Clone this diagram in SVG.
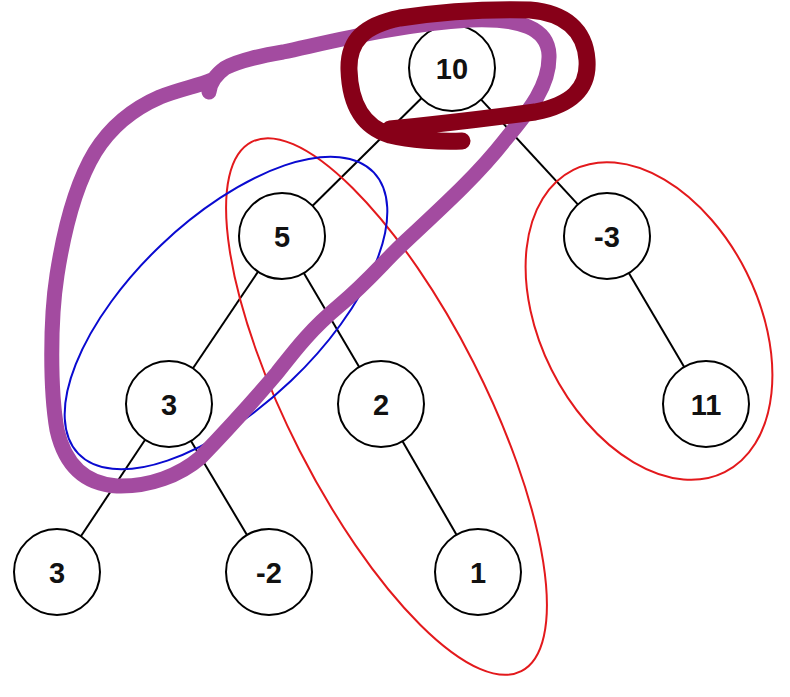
<svg xmlns="http://www.w3.org/2000/svg" width="790" height="697" viewBox="0 0 790 697">
<style>
.node circle{fill:#fff;stroke:#000;stroke-width:2}
.node text{font-family:"Liberation Sans",Arial,sans-serif;font-weight:bold;font-size:29px;text-anchor:middle;fill:#111}
.edges line{stroke:#000;stroke-width:2}
.ring{fill:none;stroke-width:2}
.marker{fill:none;stroke-linecap:round;stroke-linejoin:round}
</style>
<rect width="790" height="697" fill="#fff"/>
<g id="edges" class="edges">
<line x1="421.4" y1="98.2" x2="312.6" y2="205.8"/>
<line x1="481.2" y1="99.6" x2="577.8" y2="204.4"/>
<line x1="258" y1="271.7" x2="193" y2="368.3"/>
<line x1="303.8" y1="273" x2="359.2" y2="367"/>
<line x1="145.1" y1="439.8" x2="80.9" y2="536.2"/>
<line x1="191" y1="441" x2="247" y2="535"/>
<line x1="402.5" y1="441.2" x2="456.5" y2="534.8"/>
<line x1="628.8" y1="273" x2="684.2" y2="367"/>
</g>
<g id="n10" class="node"><circle cx="452" cy="68" r="43"/><text x="452" y="78.5">10</text></g>
<g id="n5" class="node"><circle cx="282" cy="236" r="43"/><text x="282" y="246.5">5</text></g>
<g id="nm3" class="node"><circle cx="607" cy="236" r="43"/><text x="607" y="246.5">-3</text></g>
<g id="n3a" class="node"><circle cx="169" cy="404" r="43"/><text x="169" y="414.5">3</text></g>
<g id="n2" class="node"><circle cx="381" cy="404" r="43"/><text x="381" y="414.5">2</text></g>
<g id="n11" class="node"><circle cx="706" cy="404" r="43"/><text x="706" y="414.5">11</text></g>
<g id="n3b" class="node"><circle cx="57" cy="572" r="43"/><text x="57" y="582.5">3</text></g>
<g id="nm2" class="node"><circle cx="269" cy="572" r="43"/><text x="269" y="582.5">-2</text></g>
<g id="n1" class="node"><circle cx="478" cy="572" r="43"/><text x="478" y="582.5">1</text></g>
<g id="annotations">
<ellipse class="ring" stroke="#e3191c" cx="386.5" cy="406.5" rx="297" ry="97.5" transform="rotate(63 386.5 406.5)"/>
<ellipse class="ring" stroke="#e3191c" cx="649" cy="321" rx="169" ry="109" transform="rotate(63.4 649 321)"/>
<ellipse class="ring" stroke="#0a0ad0" cx="226" cy="313" rx="204" ry="94" transform="rotate(-43.6 226 313)"/>
<path class="marker" stroke="#a34ba0" stroke-width="15" d="M209,92 C210,84 214,76 225,68 C240,60 260,56 283,52 C330,42 400,24 470,20 C520,18 548,28 549,55 C550,85 530,110 505,140 C480,172 450,200 407,240 C385,260 370,280 340,305 C310,330 295,350 277,373 C250,405 225,432 200,458 C180,475 150,487 117,486 C85,484 65,465 57,430 C50,390 50,320 57,275 C64,230 75,185 95,152 C110,128 130,110 160,97 C180,89 198,86 212,80"/>
<path class="marker" stroke="#870018" stroke-width="17" d="M462,141 C440,142 410,140 390,135 C360,126 350,100 349,70 C348,40 365,25 400,18 C440,12 490,9 530,10 C565,13 585,30 587,60 C589,90 570,105 535,112 C490,118 440,124 390,129"/>
</g>
</svg>
